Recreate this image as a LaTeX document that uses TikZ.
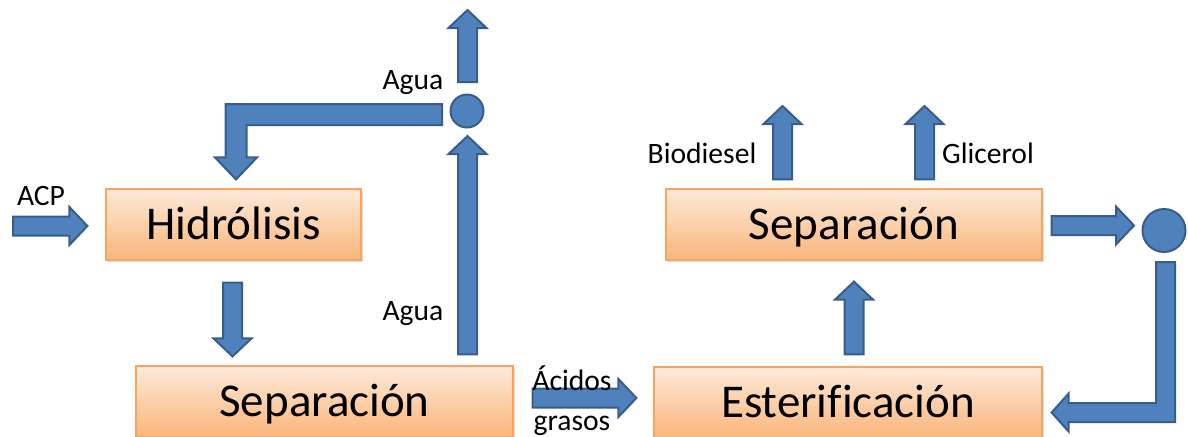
\documentclass[tikz,border=0pt]{standalone}
\usepackage{fontspec}
\setmainfont[Ligatures=NoCommon]{Carlito}
\usetikzlibrary{calc,shadows}
\definecolor{arrowfill}{HTML}{4F81BD}
\definecolor{arrowedge}{HTML}{385D8A}
\definecolor{boxtop}{HTML}{FDEADA}
\definecolor{boxbottom}{HTML}{FAB57A}
\definecolor{boxedge}{HTML}{F8A45F}
\newcommand{\shaftw}{4.75pt}
\newcommand{\headw}{9.5pt}
\newcommand{\headl}{9pt}

\begin{document}
\begin{tikzpicture}[x=.5pt,y=-.5pt,
	box/.style={draw=boxedge,line width=.6pt,top color=boxtop,bottom color=boxbottom,
		minimum height=35.5pt,inner sep=0pt,text height=16pt,text depth=.9pt,
		font=\fontsize{23.5}{28}\selectfont,
		drop shadow={shadow xshift=1pt,shadow yshift=-1.2pt,opacity=.25}},
	joint/.style={circle,draw=arrowedge,fill=arrowfill,line width=1pt,inner sep=0pt},
	lbl/.style={anchor=base,inner sep=0pt,font=\fontsize{14.8}{17}\selectfont},
	arrowshape/.style={draw=arrowedge,fill=arrowfill,line width=1pt,line join=miter},
	blockarrow/.style={arrowshape,
		to path={let \p1=(\tikztostart), \p2=(\tikztotarget), \p3=($(\p2)!\headl!(\p1)$) in
			($(\p1)!\shaftw!90:(\p2)$) -- ($(\p3)!\shaftw!-90:(\p1)$) -- ($(\p3)!\headw!-90:(\p1)$)
			-- (\p2) -- ($(\p3)!\headw!90:(\p1)$) -- ($(\p3)!\shaftw!90:(\p1)$)
			-- ($(\p1)!\shaftw!-90:(\p2)$) -- cycle}}]
	\useasboundingbox (0,0) rectangle (1188,436);
	\clip (0,0) rectangle (1188,436);
	
	\node[box,minimum width=127.5pt] (hid) at (233.5,224.5) {Hidrólisis};
	\node[box,minimum width=188.5pt] (sepA) at (324.5,401.5) {Separación};
	\node[box,minimum width=188pt] (sepB) at (854,224.5) {Separación};
	\node[box,minimum width=194pt] (est) at (848,402.5) {Esterificación};
	
	\node[joint,minimum size=16.5pt] (jA) at (467,111) {};
	\node[joint,minimum size=21.5pt] (jB) at (1164,230.5) {};
	
	\coordinate (acp) at (13,226);
	\coordinate (vent) at (467.5,10);
	\coordinate (bio) at (782.5,106);
	\coordinate (gly) at (924.5,106);
	
	\draw[blockarrow] (acp) to ($(hid.west)+(-18,1.5)$);
	\draw[blockarrow] ($(hid.south)+(-1,22)$) to ($(hid.south |- sepA.north)+(-1,-9)$);
	\draw[blockarrow] ($(sepA.north -| jA.south)+(.5,-11)$) to ($(jA.south)+(.5,7.5)$);
	\draw[blockarrow] ($(jA.north)+(.5,-11.5)$) to (vent);
	\draw[blockarrow] ($(sepA.east)+(19,-3.5)$) to ($(est.west)+(-17,-4.5)$);
	\draw[blockarrow] ($(est.north)+(6,-12)$) to ($(sepB.south)+(0,21)$);
	\draw[blockarrow] ($(sepB.north)+(-71.5,-9)$) to (bio);
	\draw[blockarrow] ($(sepB.north)+(70.5,-9)$) to (gly);
	\draw[blockarrow] ($(sepB.east)+(9,1)$) to ($(jB.west)+(-7.5,-5)$);
	
	\draw[arrowshape] let \p1=($(jA.west)+(-7.5,3.5)$), \p2=($(hid.north)+(2.5,-9)$) in
		(\x1,{\y1+5.25pt}) -- ({\x2-5.25pt},{\y1+5.25pt}) -- ({\x2-5.25pt},{\y2+11pt})
		-- ({\x2-10.5pt},{\y2+11pt}) -- (\p2) -- ({\x2+10.5pt},{\y2+11pt})
		-- ({\x2+5.25pt},{\y2+11pt}) -- ({\x2+5.25pt},{\y1-5.25pt}) -- (\x1,{\y1-5.25pt}) -- cycle;
	\draw[arrowshape] let \p1=($(jB.south)+(1.5,9)$), \p2=($(est.east)+(9,10)$) in
		({\x1-4.75pt},\y1) -- ({\x1-4.75pt},{\y2+4.75pt}) -- ({\x2+8.5pt},{\y2+4.75pt})
		-- ({\x2+8.5pt},{\y2+9.5pt}) -- (\p2) -- ({\x2+8.5pt},{\y2-9.5pt})
		-- ({\x2+8.5pt},{\y2-4.75pt}) -- ({\x1+4.75pt},{\y2-4.75pt}) -- ({\x1+4.75pt},\y1) -- cycle;
	
	\node[lbl] (acpl) at (41,205) {ACP};
	\node[lbl] (aguaA) at (413,89) {Agua};
	\node[lbl] (aguaB) at (413,320) {Agua};
	\node[lbl] (acidos) at (572,390) {Ácidos};
	\node[lbl] (grasos) at (572,430) {grasos};
	\node[lbl] (biod) at (702,163) {Biodiesel};
	\node[lbl] (glic) at (988,163) {Glicerol};
\end{tikzpicture}
\end{document}
